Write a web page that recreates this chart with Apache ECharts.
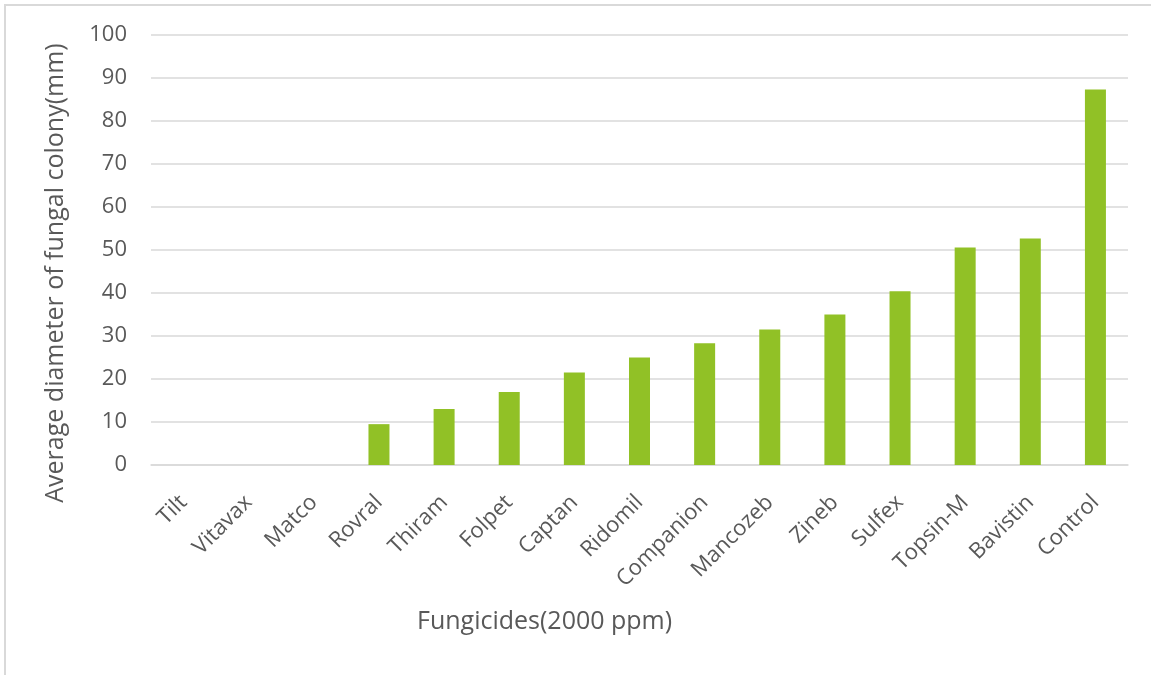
<!DOCTYPE html>
<html>
<head>
<meta charset="utf-8">
<script src="https://cdn.jsdelivr.net/npm/echarts@6/dist/echarts.min.js"></script>
<style>
html,body{margin:0;padding:0;background:#fff;}
#chart{width:1151px;height:675px;}
</style>
</head>
<body>
<div id="chart"></div>
<script>
const categories = ["Tilt","Vitavax","Matco","Rovral","Thiram","Folpet","Captan","Ridomil","Companion","Mancozeb","Zineb","Sulfex","Topsin-M","Bavistin","Control"];
const colonyDiameter = [0,0,0,9.5,13.0,17.0,21.5,25.0,28.3,31.5,35.0,40.4,50.6,52.7,87.3];
const yAxisTitle = "Average diameter of fungal colony(mm)";
const xAxisTitle = "Fungicides(2000 ppm)";

const FONT = "Open Sans";
const TXT = "#595959";
const chart = echarts.init(document.getElementById('chart'));
chart.setOption({
  animation: false,
  backgroundColor: '#ffffff',
  textStyle: { fontFamily: FONT },
  graphic: [
    { type: 'rect', shape: { x: 5, y: 5, width: 1300, height: 800 }, style: { fill: 'none', stroke: '#d9d9d9', lineWidth: 2 }, silent: true },
    { type: 'text', left: 417, top: 609, style: { text: xAxisTitle, fill: TXT, font: '25px "' + FONT + '"' } },
    { type: 'text', x: 56, y: 273, rotation: Math.PI / 2,
      style: { text: yAxisTitle, fill: TXT, font: '25px "' + FONT + '"', align: 'center', verticalAlign: 'middle' } }
  ],
  grid: { left: 151, right: 23, top: 35, bottom: 210, containLabel: false },
  xAxis: {
    type: 'category',
    data: categories,
    axisLine: { show: true, lineStyle: { color: '#d9d9d9', width: 1.5 } },
    axisTick: { show: false },
    axisLabel: { rotate: 45, color: TXT, fontSize: 22, fontFamily: FONT, margin: 34, interval: 0 }
  },
  yAxis: {
    type: 'value',
    min: 0, max: 100, interval: 10,
    axisLine: { show: false },
    axisTick: { show: false },
    axisLabel: { color: TXT, fontSize: 22, fontFamily: FONT, margin: 24 },
    splitLine: { lineStyle: { color: '#d9d9d9', width: 1.5 } }
  },
  series: [{
    type: 'bar',
    data: colonyDiameter,
    barWidth: 21,
    itemStyle: { color: '#91c126' }
  }]
});
</script>
</body>
</html>
